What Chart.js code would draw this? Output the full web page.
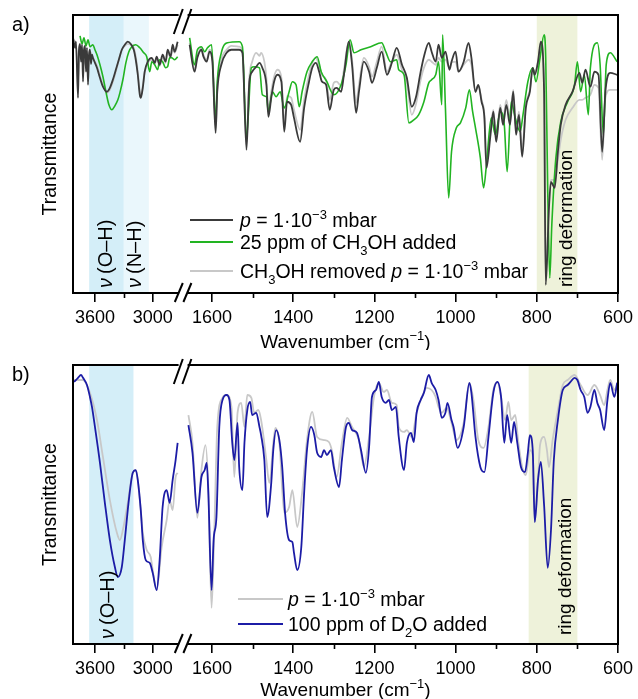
<!DOCTYPE html>
<html><head><meta charset="utf-8">
<script src="https://cdn.jsdelivr.net/npm/chart.js@4.4.1/dist/chart.umd.min.js"></script>
<style>
body{margin:0;background:#fff;}
.wrap{position:absolute;left:0;width:638px;}
canvas{display:block;}
</style>
</head><body>
<div class="wrap" style="top:0;height:350px"><canvas id="ca" width="638" height="350"></canvas></div>
<div class="wrap" style="top:350px;height:349px"><canvas id="cb" width="638" height="349"></canvas></div>
<script>
// ---------------- data (wavenumber cm^-1, transmittance a.u.) ----------------
const TICKS_MAJOR = [3600, 3000, 1600, 1400, 1200, 1000, 800, 600];
const TICKS_MINOR = [3300, 1500, 1300, 1100, 900, 700];

// panel a: p = 1e-3 mbar
const A_VACUUM = [[3828,91.8],[3807,88.2],[3797,90.4],[3776,70.2],[3766,87.5],[3755,89.6],[3745,83.2],[3734,89.3],[3724,76.0],[3714,87.5],[3703,88.9],[3693,79.6],[3683,88.2],[3672,74.9],[3662,85.7],[3652,87.5],[3641,82.4],[3631,85.7],[3621,84.6],[3579,81.0],[3548,77.4],[3517,74.2],[3476,72.4],[3445,73.8],[3414,76.7],[3383,80.3],[3352,83.9],[3321,87.5],[3290,89.3],[3259,90.4],[3228,89.6],[3197,87.5],[3176,83.9],[3155,78.5],[3134,71.3],[3124,70.2],[3103,73.8],[3083,79.6],[3052,83.2],[3010,84.6],[2979,82.8],[2959,85.0],[2928,82.1],[2897,85.7],[2866,83.2],[2845,87.5],[2814,85.0],[2793,89.3],[2772,86.8],[2741,90.4],
[1655,89.3],[1643,79.6],[1636,84.6],[1626,87.5],[1621,85.0],[1613,83.2],[1606,86.8],[1599,83.2],[1591,57.6],[1587,72.4],[1577,82.1],[1564,86.4],[1552,87.5],[1533,87.5],[1525,86.4],[1515,51.5],[1508,76.0],[1501,79.6],[1491,81.4],[1483,82.8],[1476,81.0],[1466,74.9],[1461,63.4],[1454,70.2],[1447,76.0],[1439,78.5],[1429,76.0],[1422,58.0],[1415,68.8],[1405,67.7],[1398,63.0],[1383,54.4],[1373,66.6],[1361,76.0],[1353,81.0],[1344,82.8],[1336,79.6],[1329,76.0],[1319,74.9],[1310,65.9],[1300,73.1],[1293,73.8],[1282,72.4],[1275,78.5],[1263,90.4],[1255,82.1],[1245,64.8],[1238,72.4],[1226,83.2],[1213,79.6],[1206,75.6],[1194,81.0],[1182,86.8],[1169,78.5],[1157,82.8],[1145,88.2],[1132,82.1],[1120,77.4],[1108,67.0],[1098,70.2],[1086,79.6],[1078,85.0],[1066,90.0],[1059,86.8],[1049,83.2],[1042,89.3],[1034,84.6],[1025,86.8],[1015,80.3],[1010,83.2],[1000,86.8],[993,79.6],[980,83.2],[968,90.0],[961,84.6],[951,72.4],[944,74.9],[936,68.8],[929,63.0],[924,45.0],[914,56.9],[907,65.2],[900,54.4],[890,66.6],[883,60.5],[875,67.7],[866,60.5],[858,72.4],[851,56.9],[844,64.1],[836,49.0],[827,66.6],[817,72.4],[810,81.0],[805,78.5],[797,83.2],[790,90.4],[782,72.4],[778,2.9],[770,30.6],[765,40.0],[756,37.8],[748,50.8],[741,60.5],[729,67.7],[712,72.4],[695,79.2],[688,75.6],[680,80.3],[668,74.2],[658,79.6],[648,78.5],[639,50.8],[631,72.4],[619,79.2],[602,78.5]];

// panel a: 25 ppm CH3OH added
const A_METHANOL = [[3755,92.5],[3734,89.6],[3714,91.8],[3693,88.9],[3672,91.1],[3652,88.6],[3621,89.3],[3600,87.5],[3579,85.7],[3548,82.1],[3517,77.8],[3486,72.4],[3455,67.7],[3424,65.9],[3393,67.3],[3362,69.5],[3341,72.0],[3310,76.7],[3279,82.8],[3248,86.8],[3217,88.6],[3176,89.3],[3134,88.2],[3093,86.4],[3062,85.0],[3031,79.6],[3010,83.2],[2979,82.1],[2948,80.3],[2928,83.9],[2897,83.2],[2866,81.0],[2845,81.4],[2824,84.6],[2803,84.6],[2772,83.9],[2741,85.0],
[1655,91.8],[1643,82.1],[1636,87.5],[1626,88.6],[1618,86.8],[1611,88.2],[1601,89.3],[1591,61.6],[1587,76.0],[1577,86.4],[1562,90.0],[1533,90.4],[1525,88.6],[1515,55.8],[1503,81.0],[1496,81.4],[1483,81.0],[1476,71.3],[1466,70.6],[1461,65.2],[1451,72.4],[1442,70.6],[1432,72.4],[1422,66.6],[1410,72.4],[1402,76.0],[1393,74.9],[1385,67.0],[1378,72.4],[1366,79.6],[1353,83.2],[1341,85.0],[1331,79.6],[1317,76.0],[1300,71.3],[1282,74.9],[1270,82.1],[1260,91.1],[1250,86.4],[1233,87.5],[1209,88.6],[1182,90.0],[1172,86.8],[1160,83.2],[1145,83.9],[1140,80.3],[1127,78.5],[1115,61.2],[1103,62.3],[1091,64.1],[1078,68.8],[1066,75.6],[1059,76.7],[1049,78.5],[1042,83.2],[1034,67.7],[1032,92.9],[1025,66.6],[1017,34.2],[1010,50.8],[998,59.4],[988,61.2],[975,66.6],[966,73.1],[958,65.2],[951,59.4],[939,48.6],[931,37.8],[924,46.1],[912,63.0],[902,56.9],[890,65.2],[880,60.5],[873,43.6],[863,68.8],[853,63.0],[841,58.0],[834,64.1],[822,76.0],[810,81.0],[802,76.0],[792,84.6],[782,92.9],[778,84.6],[773,36.4],[768,5.4],[763,24.5],[753,48.6],[741,61.6],[724,68.8],[707,74.9],[700,83.2],[692,72.4],[683,78.5],[673,64.1],[668,81.0],[651,90.0],[644,82.1],[636,56.9],[629,82.1],[619,86.4],[602,83.2]];

// panel a: CH3OH removed, p = 1e-3 mbar
const A_REMOVED = [[3828,91.1],[3797,89.3],[3776,76.7],[3755,88.6],[3724,82.1],[3693,83.9],[3672,80.3],[3652,86.8],[3621,84.6],[3579,81.7],[3548,78.1],[3517,74.9],[3476,72.0],[3445,73.1],[3414,76.0],[3383,79.6],[3352,83.9],[3321,87.5],[3290,88.9],[3259,89.6],[3228,89.3],[3197,88.2],[3176,85.0],[3155,79.6],[3134,72.4],[3124,70.6],[3103,74.5],[3083,79.6],[3052,82.8],[3010,83.9],[2979,82.4],[2959,84.6],[2928,81.7],[2897,85.0],[2866,82.8],[2845,86.8],[2814,84.6],[2793,88.2],[2772,86.4],[2741,89.3],
[1655,90.0],[1643,80.3],[1636,85.3],[1626,88.2],[1621,85.7],[1613,83.9],[1606,87.5],[1599,84.6],[1591,59.4],[1587,73.8],[1577,83.9],[1564,87.5],[1552,88.9],[1533,88.6],[1525,86.8],[1515,53.3],[1508,77.4],[1501,83.2],[1491,86.4],[1483,85.3],[1479,86.4],[1471,83.2],[1466,77.4],[1461,65.9],[1454,72.4],[1447,77.8],[1439,80.3],[1429,77.4],[1422,60.5],[1415,70.9],[1405,70.2],[1398,65.9],[1383,58.7],[1373,69.5],[1361,78.5],[1353,82.8],[1344,84.6],[1336,81.7],[1329,78.5],[1319,76.7],[1310,69.5],[1300,75.6],[1293,76.0],[1282,74.5],[1275,80.3],[1263,90.4],[1255,83.9],[1245,68.4],[1238,74.9],[1226,84.6],[1213,81.4],[1206,77.8],[1194,83.2],[1182,88.6],[1169,79.6],[1157,83.2],[1145,85.7],[1132,80.3],[1120,75.6],[1108,64.1],[1098,67.7],[1086,76.7],[1078,81.0],[1066,83.9],[1059,83.2],[1049,82.1],[1042,84.6],[1034,83.2],[1025,83.9],[1015,81.0],[1010,82.8],[1000,83.2],[993,79.6],[980,82.1],[968,83.9],[961,82.1],[951,72.4],[944,74.9],[936,69.5],[929,64.1],[924,47.9],[914,58.7],[907,65.9],[900,55.8],[890,67.7],[883,62.3],[875,69.5],[866,62.3],[858,73.1],[851,58.7],[844,65.2],[836,51.5],[827,67.7],[817,73.1],[810,81.0],[805,79.2],[797,83.2],[790,89.3],[782,73.1],[778,6.5],[770,31.7],[765,40.7],[756,40.7],[748,47.9],[741,55.1],[729,62.3],[712,66.6],[695,69.5],[688,69.5],[680,70.2],[668,71.3],[658,74.9],[648,73.8],[639,47.9],[631,70.2],[619,73.1],[602,73.1]];

// panel b: p = 1e-3 mbar
const B_VACUUM = [[3817,95.0],[3724,95.0],[3652,90.4],[3579,80.6],[3517,67.3],[3445,51.8],[3372,40.0],[3341,37.4],[3310,41.0],[3259,50.8],[3207,61.6],[3176,62.6],[3124,48.2],[3103,40.0],[3062,33.8],[3021,31.3],[3000,26.6],[2959,19.4],[2907,34.9],[2855,44.6],[2824,51.8],[2793,48.2],[2762,60.1],[2741,61.6],
[1658,82.4],[1648,72.4],[1636,45.4],[1626,62.6],[1616,71.6],[1609,56.5],[1601,13.0],[1594,42.1],[1587,78.1],[1574,88.6],[1564,89.6],[1552,85.3],[1545,60.1],[1537,83.2],[1528,86.8],[1520,78.1],[1513,89.6],[1503,88.6],[1496,83.2],[1486,84.2],[1479,80.6],[1466,66.2],[1459,58.0],[1444,77.8],[1434,72.4],[1422,47.2],[1410,49.3],[1402,55.4],[1390,42.1],[1378,54.4],[1366,73.4],[1353,83.5],[1341,74.5],[1324,73.4],[1312,72.7],[1305,69.8],[1293,60.1],[1280,72.4],[1267,81.4],[1255,78.1],[1238,73.4],[1226,63.7],[1213,74.5],[1201,88.9],[1189,94.0],[1177,90.7],[1169,91.4],[1157,86.8],[1145,86.0],[1140,78.1],[1127,76.3],[1120,77.0],[1108,74.5],[1096,83.2],[1083,88.9],[1071,92.2],[1059,91.4],[1049,88.9],[1042,85.3],[1034,83.2],[1022,85.0],[1010,79.6],[998,73.4],[980,79.6],[966,94.0],[956,87.8],[944,73.4],[931,70.6],[919,78.1],[907,91.4],[897,94.3],[888,88.9],[878,80.6],[870,87.1],[863,80.6],[853,82.4],[846,73.4],[836,63.7],[827,60.8],[817,69.8],[810,68.0],[805,43.9],[797,59.0],[792,71.6],[782,74.5],[775,69.8],[770,63.7],[761,73.4],[748,84.2],[736,93.2],[724,95.0],[707,96.8],[692,93.2],[675,89.6],[658,93.2],[644,89.6],[634,86.0],[626,91.4],[619,95.0],[609,91.4],[602,93.2]];

// panel b: 100 ppm D2O added
const B_D2O = [[3817,94.3],[3776,95.8],[3745,96.8],[3724,95.8],[3683,93.2],[3652,88.9],[3631,85.3],[3600,78.1],[3548,65.2],[3497,50.8],[3445,37.4],[3393,27.7],[3362,24.1],[3321,27.7],[3290,37.4],[3248,51.8],[3207,61.6],[3176,62.6],[3155,59.0],[3124,48.2],[3103,37.4],[3072,30.2],[3031,29.2],[3000,25.6],[2959,19.4],[2928,30.2],[2897,49.3],[2855,55.4],[2824,50.8],[2793,59.0],[2762,66.2],[2741,72.4],
[1658,78.8],[1648,68.8],[1636,47.2],[1626,60.1],[1618,62.6],[1613,65.2],[1609,54.4],[1601,19.4],[1596,37.4],[1589,45.7],[1582,78.1],[1574,87.8],[1564,89.6],[1557,87.8],[1550,72.4],[1545,66.2],[1537,79.6],[1533,63.7],[1525,55.4],[1520,72.4],[1513,84.2],[1506,87.1],[1501,82.4],[1491,83.2],[1483,78.1],[1479,75.2],[1471,66.2],[1464,45.7],[1454,58.0],[1449,69.8],[1442,77.0],[1434,73.4],[1427,63.7],[1420,47.2],[1410,37.4],[1402,36.7],[1398,32.8],[1390,26.6],[1380,34.9],[1373,54.4],[1366,69.8],[1356,78.1],[1348,75.2],[1341,68.8],[1331,67.3],[1324,69.8],[1317,68.0],[1307,69.8],[1300,63.7],[1287,56.5],[1280,66.2],[1270,78.1],[1263,79.6],[1255,77.0],[1243,76.0],[1233,69.8],[1221,61.6],[1213,70.9],[1206,88.9],[1196,91.4],[1189,94.3],[1182,88.9],[1172,86.8],[1164,87.8],[1157,84.2],[1147,85.3],[1140,74.5],[1127,62.6],[1120,72.4],[1110,76.0],[1103,72.7],[1096,83.2],[1086,87.8],[1078,90.4],[1066,96.8],[1059,94.0],[1049,91.4],[1042,87.8],[1034,81.4],[1025,83.2],[1020,86.8],[1010,80.6],[1005,78.1],[995,70.6],[980,78.1],[966,94.0],[961,90.4],[951,74.5],[939,63.7],[929,61.9],[919,74.5],[907,90.4],[897,94.3],[888,88.9],[880,72.4],[873,82.4],[863,72.4],[856,79.9],[848,72.4],[839,63.7],[829,61.9],[822,68.8],[817,75.2],[810,69.8],[805,43.9],[797,59.0],[790,65.5],[782,50.0],[773,27.4],[765,41.0],[758,66.2],[748,80.6],[736,91.4],[724,93.2],[717,94.3],[707,95.8],[700,95.0],[692,91.4],[683,88.9],[675,83.2],[668,85.3],[658,91.4],[651,86.8],[644,84.2],[634,77.0],[626,87.8],[619,94.0],[609,88.9],[602,94.0]];

// highlighted wavenumber ranges
const BANDS_A = [[3660, 3300], [3300, 3040], [800, 700]];
const BANDS_B = [[3660, 3200], [820, 700]];

// ---------------- broken axis mapping ----------------
const LEFT_MAX = 3828, LEFT_SCALE = 10.35;     // left segment 3828 .. ~2710
const RIGHT_MAX = 1665, RIGHT_SCALE = 2.454, RIGHT_START = 113; // right segment 1665 .. 600
const AXIS_MAX = 547, GAP_U = 110;
function toU(w){ return w > 2000 ? (LEFT_MAX - w) / LEFT_SCALE : RIGHT_START + (RIGHT_MAX - w) / RIGHT_SCALE; }
function build(pairs){
  const out = []; let prev = null;
  for (const [w, t] of pairs){
    if (prev !== null && prev > 2000 && w < 2000) out.push({x: GAP_U, y: null});
    out.push({x: toU(w), y: t}); prev = w;
  }
  return out;
}

const FONT = '"Liberation Sans", Arial, Helvetica, sans-serif';
function rich(ctx, x, y, parts, size, align){
  const fontFor = k => (k === 'i' ? 'italic ' : '') + ((k === 'sub' || k === 'sup') ? Math.round(size * 0.68) : size) + 'px ' + FONT;
  let total = 0;
  for (const [t, k] of parts){ ctx.font = fontFor(k); total += ctx.measureText(t).width; }
  let cx = align === 'center' ? x - total / 2 : x;
  ctx.textAlign = 'left'; ctx.textBaseline = 'alphabetic'; ctx.fillStyle = '#000';
  for (const [t, k] of parts){
    ctx.font = fontFor(k);
    const dy = k === 'sub' ? size * 0.3 : k === 'sup' ? -size * 0.42 : 0;
    ctx.fillText(t, cx, y + dy);
    cx += ctx.measureText(t).width;
  }
}

const P_TEXT = [['p','i'],[' = 1·10',''],['−3','sup'],[' mbar','']];

function makeDeco(cfg){
  return {
    id: 'deco',
    beforeDatasetsDraw(chart){
      const {ctx, chartArea: a, scales: {x}} = chart;
      ctx.save();
      cfg.bands.forEach((b, i) => {
        const x1 = x.getPixelForValue(toU(b[0])), x2 = x.getPixelForValue(toU(b[1]));
        ctx.fillStyle = cfg.bandColors[i];
        ctx.fillRect(x1, a.top, x2 - x1, a.bottom - a.top);
      });
      ctx.restore();
    },
    afterDraw(chart){
      const {ctx, chartArea: a, scales: {x}} = chart;
      ctx.save();
      // rotated band labels
      for (const lb of cfg.rotLabels){
        ctx.save(); ctx.translate(lb.x, lb.y); ctx.rotate(-Math.PI / 2);
        rich(ctx, 0, 0, lb.parts, lb.size || 19, 'left'); ctx.restore();
      }
      // legend
      cfg.legend.forEach(r => {
        ctx.strokeStyle = r.color; ctx.lineWidth = 2;
        ctx.beginPath(); ctx.moveTo(cfg.legX1, r.y); ctx.lineTo(cfg.legX2, r.y); ctx.stroke();
        rich(ctx, cfg.legTx, r.y + 7, r.parts, 19.5, 'left');
      });
      // frame
      ctx.strokeStyle = '#000'; ctx.lineWidth = 2;
      ctx.strokeRect(a.left, a.top, a.right - a.left, a.bottom - a.top);
      // minor ticks
      ctx.lineWidth = 1.6;
      for (const w of TICKS_MINOR){
        const px = Math.round(x.getPixelForValue(toU(w))) + 0.5;
        ctx.beginPath(); ctx.moveTo(px, a.bottom); ctx.lineTo(px, a.bottom + 5); ctx.stroke();
      }
      // axis break
      const bx = x.getPixelForValue(GAP_U) + 0.5;
      ctx.fillStyle = '#fff';
      ctx.fillRect(bx - 4.5, a.bottom - 2, 9, 4);
      ctx.fillRect(bx - 4.5, a.top - 2, 9, 4);
      ctx.lineWidth = 2;
      for (const off of [-4.3, 4.3]){
        const cx = bx + off;
        ctx.beginPath(); ctx.moveTo(cx - 4, a.bottom + 9); ctx.lineTo(cx + 4, a.bottom - 10); ctx.stroke();
        ctx.beginPath(); ctx.moveTo(cx - 5, a.top + 19); ctx.lineTo(cx + 4, a.top - 6); ctx.stroke();
      }
      // axis titles
      rich(ctx, (a.left + a.right) / 2, cfg.xTitleY, [['Wavenumber (cm',''],['−1','sup'],[')','']], 19, 'center');
      ctx.save(); ctx.translate(56, (a.top + a.bottom) / 2); ctx.rotate(-Math.PI / 2);
      rich(ctx, 0, 0, [['Transmittance','']], 19.5, 'center'); ctx.restore();
      // panel letter
      rich(ctx, 12, 31, [[cfg.letter,'']], 20, 'left');
      ctx.restore();
    }
  };
}

function makeChart(id, datasets, deco, yMax, xHeight){
  return new Chart(document.getElementById(id), {
    type: 'line',
    data: {datasets},
    options: {
      responsive: false, animation: false, devicePixelRatio: 1,
      layout: {padding: {top: 15, right: 18, left: 0, bottom: 0}},
      plugins: {legend: {display: false}, tooltip: {enabled: false}},
      elements: {point: {radius: 0}, line: {cubicInterpolationMode: 'monotone', borderWidth: 1.8}},
      scales: {
        x: {
          type: 'linear', min: 0, max: AXIS_MAX,
          border: {display: false},
          grid: {drawOnChartArea: false, drawTicks: true, tickLength: 9, color: '#000', lineWidth: 1.6},
          ticks: {autoSkip: false, maxRotation: 0, padding: 5, color: '#000',
                  font: {family: FONT, size: 18},
                  callback: (v, i) => String(TICKS_MAJOR[i])},
          afterBuildTicks: s => { s.ticks = TICKS_MAJOR.map(w => ({value: toU(w)})); },
          afterFit: s => { s.height = xHeight; }
        },
        y: {
          min: 0, max: yMax,
          border: {display: false}, grid: {display: false},
          ticks: {display: false},
          afterFit: s => { s.width = 73; }
        }
      }
    },
    plugins: [deco]
  });
}

makeChart('ca', [
  {data: build(A_VACUUM), borderColor: '#3a3a3a', spanGaps: false},
  {data: build(A_METHANOL), borderColor: '#22b422', spanGaps: false, borderWidth: 1.6},
  {data: build(A_REMOVED), borderColor: '#c8c8c8', spanGaps: false}
], makeDeco({
  letter: 'a)', bands: BANDS_A, bandColors: ['#d4eef8', '#eaf7fc', '#eef2da'],
  rotLabels: [
    {x: 112, y: 288, size: 20, parts: [['ν','i'],['\u2009(O–H)','']]},
    {x: 141, y: 288, size: 20, parts: [['ν','i'],['\u2009(N–H)','']]},
    {x: 572, y: 287, parts: [['ring deformation','']]}
  ],
  legX1: 190, legX2: 233, legTx: 240,
  legend: [
    {y: 220, color: '#3a3a3a', parts: P_TEXT},
    {y: 242, color: '#22b422', parts: [['25 ppm of CH',''],['3','sub'],['OH added','']]},
    {y: 271, color: '#c8c8c8', parts: [['CH',''],['3','sub'],['OH removed ',''],...P_TEXT]}
  ],
  xTitleY: 348
}), 100, 57);

makeChart('cb', [
  {data: build(B_D2O), borderColor: '#1c1ca6', spanGaps: false},
  {data: build(B_VACUUM), borderColor: '#c8c8c8', spanGaps: false}
], makeDeco({
  letter: 'b)', bands: BANDS_B, bandColors: ['#d4eef8', '#eef2da'],
  rotLabels: [
    {x: 114, y: 289, size: 20, parts: [['ν','i'],['\u2009(O–H)','']]},
    {x: 571, y: 285, parts: [['ring deformation','']]}
  ],
  legX1: 238, legX2: 283, legTx: 288,
  legend: [
    {y: 249, color: '#c8c8c8', parts: P_TEXT},
    {y: 274, color: '#1c1ca6', parts: [['100 ppm of D',''],['2','sub'],['O added','']]}
  ],
  xTitleY: 346
}), 100.4, 55);
</script>
</body></html>
